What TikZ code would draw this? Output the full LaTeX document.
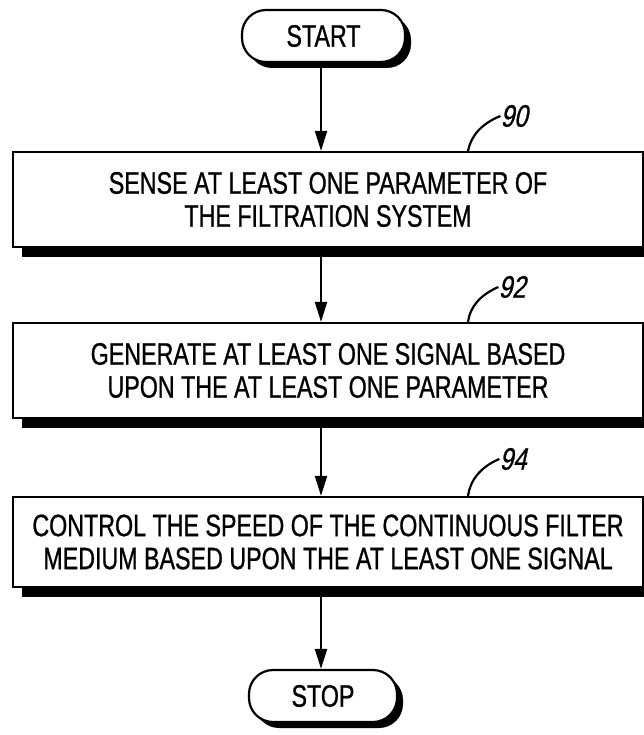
\documentclass[tikz,border=0pt]{standalone}
\usepackage{fontspec}
\setmainfont{Liberation Sans}
\newfontfamily\boxfont{Liberation Sans}[FakeStretch=0.75,FakeBold=0.8]
\newfontfamily\lblfont{Liberation Sans}[FakeStretch=0.78,FakeSlant=0.22,FakeBold=0.8]
\usetikzlibrary{shadows,arrows.meta}
\begin{document}
\begin{tikzpicture}[x=1pt,y=-1pt,
  stepbox/.style={draw, line width=2.2pt, fill=white, minimum width=630pt,
    minimum height=95pt, inner sep=0pt, align=center,
    font=\boxfont\fontsize{31}{33}\selectfont,
    drop shadow={shadow xshift=9pt, shadow yshift=-10pt, opacity=1, fill=black}},
  terminal/.style={draw, line width=2.2pt, fill=white, rounded corners=24pt,
    minimum height=52pt, inner sep=0pt,
    font=\boxfont\fontsize{31}{33}\selectfont,
    drop shadow={shadow xshift=6pt, shadow yshift=-6pt, opacity=1, fill=black}},
  arr/.style={line width=2.2pt, -{Triangle[length=20pt,width=12pt]}},
  lead/.style={line width=2.2pt},
  lbl/.style={inner sep=0pt, font=\lblfont\fontsize{31}{33}\selectfont}]
\fill[white] (0,0) rectangle (644,735);
\useasboundingbox (0,0) rectangle (644,735);

\node[terminal, minimum width=163pt] (start) at (323.5,36) {START};
\node[stepbox] (b1) at (328,199.5) {SENSE AT LEAST ONE PARAMETER OF\\THE FILTRATION SYSTEM};
\node[stepbox] (b2) at (328,370.5) {GENERATE AT LEAST ONE SIGNAL BASED\\UPON THE AT LEAST ONE PARAMETER};
\node[stepbox, minimum height=90pt] (b3) at (328,542) {CONTROL THE SPEED OF THE CONTINUOUS FILTER\\MEDIUM BASED UPON THE AT LEAST ONE SIGNAL};
\node[terminal, minimum width=148pt] (stop) at (323,696) {STOP};

\coordinate (ax) at (321,0);
\draw[arr] (start.south -| ax) -- (b1.north -| ax);
\draw[arr] (b1.south -| ax) -- (b2.north -| ax);
\draw[arr] (b2.south -| ax) -- (b3.north -| ax);
\draw[arr] (b3.south -| ax) -- (stop.north -| ax);

\node[lbl] (n90) at (514,116) {90};
\node[lbl] (n92) at (512,287) {92};
\node[lbl] (n94) at (513,459) {94};
\coordinate (lx) at (468,0);
\draw[lead] (b1.north -| lx) .. controls (471,136) and (481,124) .. (n90.west);
\draw[lead] (b2.north -| lx) .. controls (470,307) and (480,295) .. (n92.west);
\draw[lead] (b3.north -| lx) .. controls (470,481) and (480,467) .. (n94.west);
\end{tikzpicture}
\end{document}
